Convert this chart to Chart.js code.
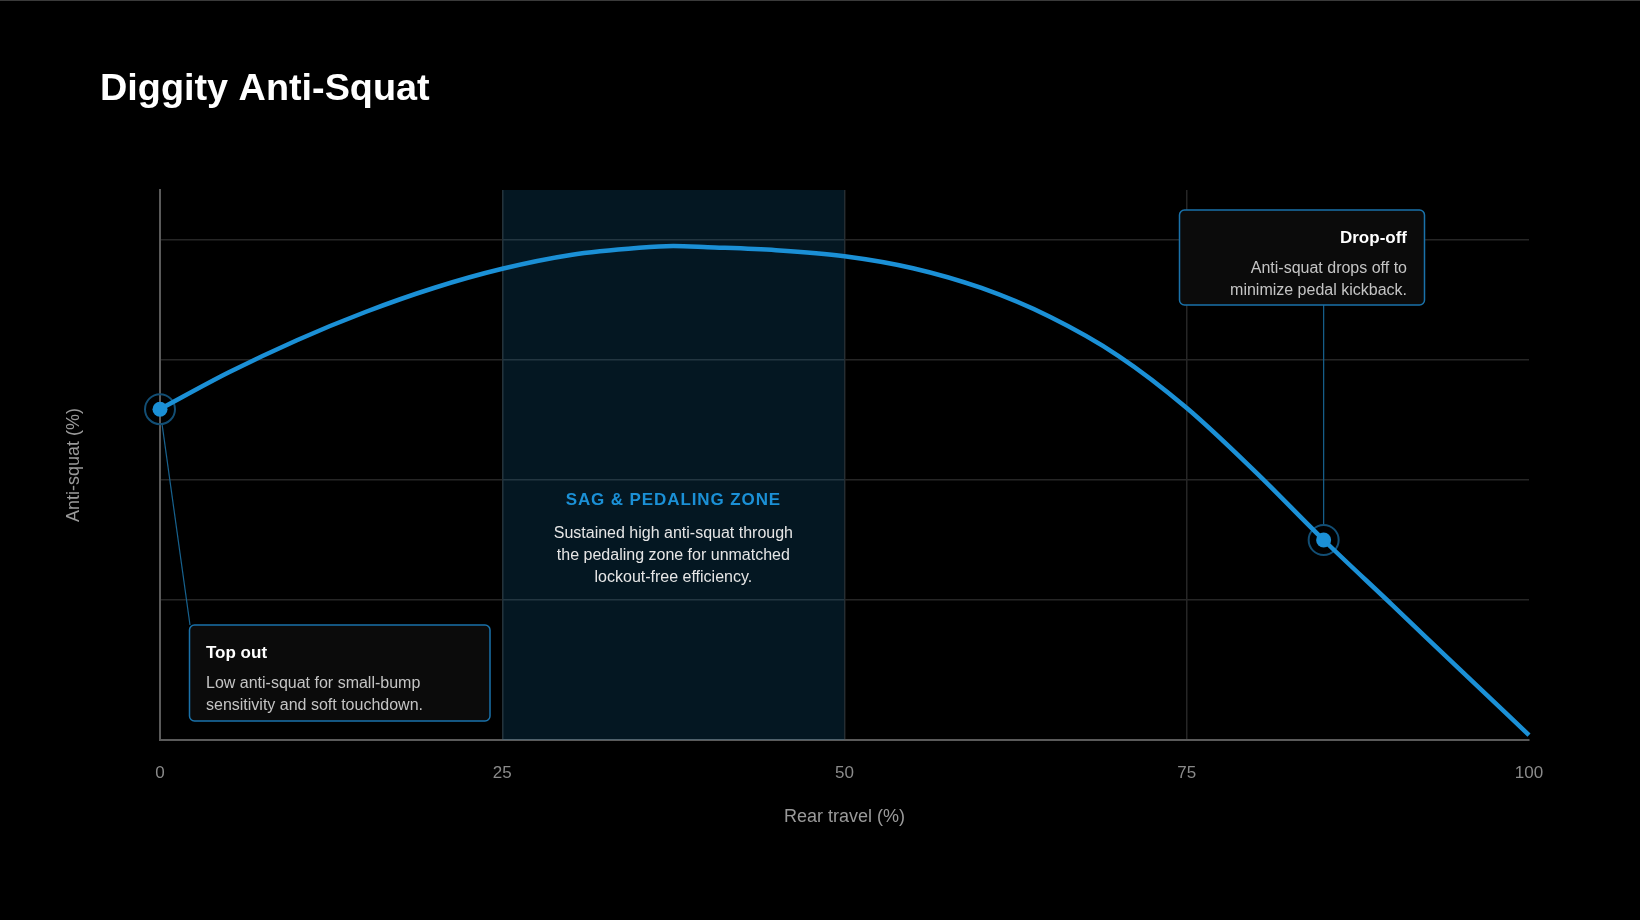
<!DOCTYPE html>
<html>
<head>
<meta charset="utf-8">
<title>Diggity Anti-Squat</title>
<script src="https://cdn.jsdelivr.net/npm/chart.js@4"></script>
<style>
  html, body { margin: 0; padding: 0; background: #000; }
  #wrap { width: 1640px; height: 920px; }
</style>
</head>
<body>
<div id="wrap"><canvas id="chart" width="1640" height="920"></canvas></div>
<script>
// curve (rear travel % -> anti-squat %)
const travel    = [0, 5, 10, 15, 20, 25, 30, 35, 37.5, 40, 45, 50, 55, 60, 65, 70, 75, 80, 85, 90, 95, 100]
const antiSquat = [91.8, 97.9, 103.3, 108.0, 112.0, 115.2, 117.5, 118.7, 119.0, 118.8, 118.3, 117.3, 115.3, 112.0, 107.2, 100.7, 92.0, 81.4, 70.0, 59.2, 48.3, 37.5]
const xTicks = [0, 25, 50, 75, 100]
const yGrid = [60, 80, 100, 120]
const markerX = [0, 85]
const markerY = [91.8, 70.0]
const zone = [25, 50]

const blue = '#1b90d6'
const font = "'Liberation Sans', Arial, Helvetica, sans-serif"

function box(ctx, x, y, w, h) {
  ctx.beginPath()
  ctx.roundRect(x, y, w, h, 5)
  ctx.fillStyle = '#0b0b0b'
  ctx.fill()
  ctx.lineWidth = 1.5
  ctx.strokeStyle = '#1a72aa'
  ctx.stroke()
}

const deco = {
  id: 'deco',
  beforeDraw(c) {
    const ctx = c.ctx
    ctx.save()
    ctx.fillStyle = '#000'
    ctx.fillRect(0, 0, c.width, c.height)
    ctx.fillStyle = '#3a3a3a'
    ctx.fillRect(0, 0, c.width, 1)
    ctx.restore()
  },
  beforeDatasetsDraw(c) {
    const ctx = c.ctx, x = c.scales.x, a = c.chartArea
    ctx.save()
    ctx.fillStyle = 'rgba(27, 143, 214, 0.16)'
    ctx.fillRect(x.getPixelForValue(zone[0]), a.top, x.getPixelForValue(zone[1]) - x.getPixelForValue(zone[0]), a.bottom - a.top)
    ctx.restore()
  },
  afterDraw(c) {
    const ctx = c.ctx, x = c.scales.x, y = c.scales.y
    ctx.save()
    // title
    ctx.fillStyle = '#fff'
    ctx.font = 'bold 37.8px ' + font
    ctx.textAlign = 'left'
    ctx.textBaseline = 'alphabetic'
    ctx.fillText('Diggity Anti-Squat', 100, 100)

    // zone text
    const zc = (x.getPixelForValue(zone[0]) + x.getPixelForValue(zone[1])) / 2
    ctx.textAlign = 'center'
    ctx.fillStyle = blue
    ctx.font = 'bold 17px ' + font
    ctx.letterSpacing = '0.9px'
    ctx.fillText('SAG & PEDALING ZONE', zc, 505)
    ctx.letterSpacing = '0px'
    ctx.fillStyle = '#e6e6e6'
    ctx.font = '16px ' + font
    ;['Sustained high anti-squat through', 'the pedaling zone for unmatched', 'lockout-free efficiency.']
      .forEach((t, i) => ctx.fillText(t, zc, 538 + i * 22))

    // leader lines
    const p0x = x.getPixelForValue(markerX[0]), p0y = y.getPixelForValue(markerY[0])
    const p1x = x.getPixelForValue(markerX[1]), p1y = y.getPixelForValue(markerY[1])
    ctx.strokeStyle = '#17628f'
    ctx.lineWidth = 1.2
    const ex = 190, ey = 625
    const d = Math.hypot(ex - p0x, ey - p0y)
    ctx.beginPath()
    ctx.moveTo(p0x + (ex - p0x) / d * 16, p0y + (ey - p0y) / d * 16)
    ctx.lineTo(ex, ey)
    ctx.stroke()
    ctx.beginPath()
    ctx.moveTo(p1x, 305)
    ctx.lineTo(p1x, p1y - 16)
    ctx.stroke()

    // top out box
    box(ctx, 189.5, 625, 300.5, 96)
    ctx.textAlign = 'left'
    ctx.fillStyle = '#fff'
    ctx.font = 'bold 17px ' + font
    ctx.fillText('Top out', 206, 658)
    ctx.fillStyle = '#c4c4c4'
    ctx.font = '16px ' + font
    ctx.fillText('Low anti-squat for small-bump', 206, 688)
    ctx.fillText('sensitivity and soft touchdown.', 206, 710)

    // drop-off box
    box(ctx, 1179.5, 210, 245, 95)
    ctx.textAlign = 'right'
    ctx.fillStyle = '#fff'
    ctx.font = 'bold 17px ' + font
    ctx.fillText('Drop-off', 1407, 243)
    ctx.fillStyle = '#c4c4c4'
    ctx.font = '16px ' + font
    ctx.fillText('Anti-squat drops off to', 1407, 273)
    ctx.fillText('minimize pedal kickback.', 1407, 295)
    ctx.restore()
  }
}

const pts = travel.map((t, i) => ({ x: t, y: antiSquat[i] }))
const marks = markerX.map((t, i) => ({ x: t, y: markerY[i] }))

new Chart(document.getElementById('chart'), {
  type: 'line',
  data: {
    datasets: [
      {
        data: marks, showLine: false, order: 3, clip: false,
        pointRadius: 15, pointBackgroundColor: 'rgba(0,0,0,0)',
        pointBorderColor: '#124e74', pointBorderWidth: 2
      },
      {
        data: pts, order: 2, clip: false,
        borderColor: blue, borderWidth: 4.5, pointRadius: 0,
        cubicInterpolationMode: 'monotone', fill: false
      },
      {
        data: marks, showLine: false, order: 1, clip: false,
        pointRadius: 7.5, pointBackgroundColor: blue, pointBorderWidth: 0
      }
    ]
  },
  options: {
    responsive: false,
    animation: false,
    events: [],
    layout: { padding: { left: 40, right: 111, top: 190, bottom: 80 } },
    plugins: { legend: { display: false }, tooltip: { enabled: false } },
    scales: {
      x: {
        type: 'linear', min: 0, max: 100,
        afterBuildTicks: s => { s.ticks = xTicks.map(v => ({ value: v })) },
        afterFit: s => { s.height = 100 },
        grid: {
          color: c => (c.tick && c.tick.value === 100) ? 'rgba(0,0,0,0)' : '#262626',
          lineWidth: 1.5, drawTicks: false
        },
        border: { color: '#5a5a5a', width: 2 },
        ticks: { color: '#8a8a8a', padding: 23, font: { family: font, size: 17 } },
        title: { display: true, text: 'Rear travel (%)', color: '#9a9a9a', padding: { top: 0, bottom: 12 }, font: { family: font, size: 18 } }
      },
      y: {
        min: 36.67, max: 128.33,
        afterBuildTicks: s => { s.ticks = yGrid.map(v => ({ value: v })) },
        afterFit: s => { s.width = 120 },
        grid: { color: '#262626', lineWidth: 1.5, drawTicks: false },
        border: { color: '#5a5a5a', width: 2 },
        ticks: { display: false },
        title: { display: true, text: 'Anti-squat (%)', color: '#9a9a9a', padding: { top: 23, bottom: 0 }, font: { family: font, size: 18 } }
      }
    }
  },
  plugins: [deco]
})
</script>
</body>
</html>
